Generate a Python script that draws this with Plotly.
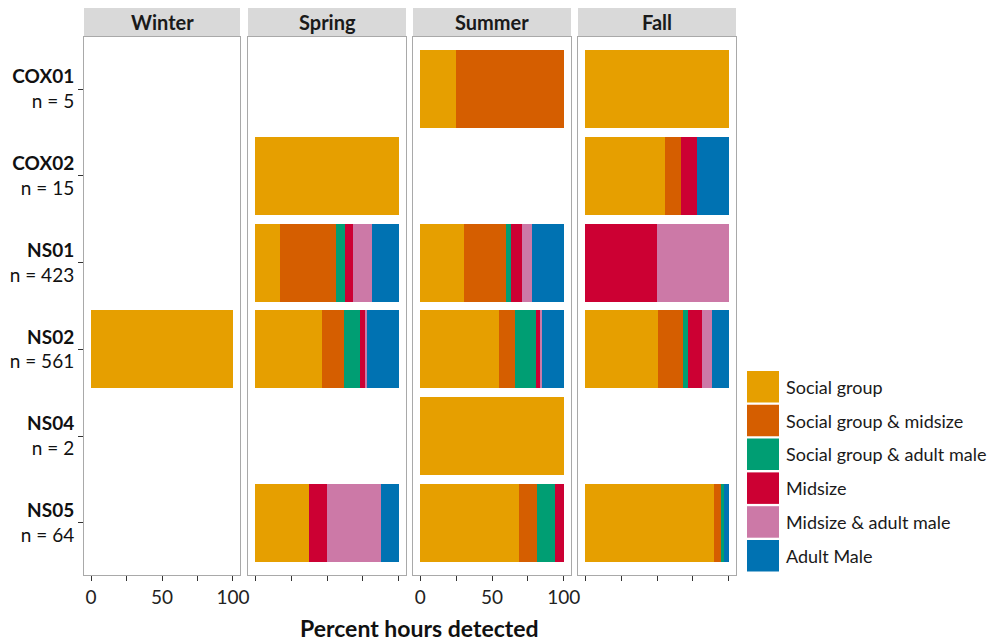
import plotly.graph_objects as go
from plotly.subplots import make_subplots

# Sites (top to bottom) and number of hours with detections
sites = ["COX01", "COX02", "NS01", "NS02", "NS04", "NS05"]
n_hours = [5, 15, 423, 561, 2, 64]

seasons = ["Winter", "Spring", "Summer", "Fall"]

groups = ["Social group", "Social group & midsize", "Social group & adult male",
          "Midsize", "Midsize & adult male", "Adult Male"]
group_colors = ["#E69F00", "#D55E00", "#009E73", "#CC0033", "#CC79A7", "#0072B2"]

# Percent of detected hours per group, one list per group in site order
# (None = no detections at that site in that season)
winter = {
    "Social group":              [None, None, None, 100.0, None, None],
    "Social group & midsize":    [None, None, None, 0.0, None, None],
    "Social group & adult male": [None, None, None, 0.0, None, None],
    "Midsize":                   [None, None, None, 0.0, None, None],
    "Midsize & adult male":      [None, None, None, 0.0, None, None],
    "Adult Male":                [None, None, None, 0.0, None, None],
}
spring = {
    "Social group":              [None, 100.0, 17.0, 46.2, None, 37.6],
    "Social group & midsize":    [None, 0.0, 39.4, 15.6, None, 0.0],
    "Social group & adult male": [None, 0.0, 6.3, 11.2, None, 0.0],
    "Midsize":                   [None, 0.0, 5.6, 4.0, None, 12.5],
    "Midsize & adult male":      [None, 0.0, 13.1, 1.1, None, 37.6],
    "Adult Male":                [None, 0.0, 18.6, 21.9, None, 12.3],
}
summer = {
    "Social group":              [25.0, None, 30.6, 55.2, 100.0, 68.7],
    "Social group & midsize":    [75.0, None, 28.8, 10.9, 0.0, 12.6],
    "Social group & adult male": [0.0, None, 4.1, 14.5, 0.0, 12.4],
    "Midsize":                   [0.0, None, 7.3, 3.1, 0.0, 6.3],
    "Midsize & adult male":      [0.0, None, 7.0, 0.8, 0.0, 0.0],
    "Adult Male":                [0.0, None, 22.2, 15.5, 0.0, 0.0],
}
fall = {
    "Social group":              [100.0, 55.7, 0.0, 50.6, None, 90.0],
    "Social group & midsize":    [0.0, 11.0, 0.0, 17.2, None, 4.7],
    "Social group & adult male": [0.0, 0.0, 0.0, 4.0, None, 1.6],
    "Midsize":                   [0.0, 11.0, 49.9, 9.3, None, 0.0],
    "Midsize & adult male":      [0.0, 0.0, 50.1, 7.0, None, 0.0],
    "Adult Male":                [0.0, 22.3, 0.0, 11.9, None, 3.7],
}
season_data = [winter, spring, summer, fall]

x_ticks = [0, 25, 50, 75, 100]
x_labels = ["0", "", "50", "", "100"]

FONT = "Lato"
W, H = 991, 642

# Panel geometry in pixels
panel_x = [(84, 240), (248, 406), (413, 571), (578, 736)]
panel_top, panel_bottom = 37, 575
strip_top = 8


def px_x(v):
    return v / W


def px_y(v):
    return 1 - v / H


fig = make_subplots(rows=1, cols=4, shared_yaxes=True, horizontal_spacing=0.01)

y_labels = [f"<b>{s}</b><br>n = {n}" for s, n in zip(sites, n_hours)]

for ci, data in enumerate(season_data):
    for g, col in zip(groups, group_colors):
        fig.add_trace(
            go.Bar(
                x=data[g], y=y_labels, orientation="h",
                marker=dict(color=col, line=dict(width=0)),
                name=g, showlegend=False, hoverinfo="x+y+name",
            ),
            row=1, col=ci + 1,
        )

fig.update_layout(barmode="stack", bargap=0.1)

shapes = []
annotations = []
for ci, season in enumerate(seasons):
    x0, x1 = panel_x[ci]
    xa = "xaxis" if ci == 0 else f"xaxis{ci + 1}"
    ya = "yaxis" if ci == 0 else f"yaxis{ci + 1}"
    show_lab = season in ("Winter", "Summer")
    fig.layout[xa].update(
        domain=[px_x(x0), px_x(x1)], range=[-5, 105],
        tickvals=x_ticks, ticktext=x_labels if show_lab else [""] * 5,
        ticks="outside", ticklen=5, tickcolor="#333333", tickwidth=1,
        tickfont=dict(family=FONT, size=19, color="#222222"),
        showgrid=False, zeroline=False, automargin=False,
        showline=True, mirror=True, linecolor="#a9a9a9", linewidth=1,
    )
    fig.layout[ya].update(
        domain=[px_y(panel_bottom), px_y(panel_top)],
        categoryorder="array", categoryarray=y_labels[::-1],
        range=[-0.6, 5.6], automargin=False,
        showgrid=False, zeroline=False,
        showline=True, mirror=True, linecolor="#a9a9a9", linewidth=1,
    )
    if ci == 0:
        fig.layout[ya].update(
            ticks="outside", ticklen=5, tickcolor="#333333", showticklabels=True,
            tickfont=dict(family=FONT, size=19, color="#111111"),
        )
    else:
        fig.layout[ya].update(ticks="", showticklabels=False)

    # facet strip
    shapes.append(dict(type="rect", xref="paper", yref="paper",
                       x0=px_x(x0), x1=px_x(x1), y0=px_y(panel_top - 1), y1=px_y(strip_top),
                       fillcolor="#d9d9d9", line=dict(width=0), layer="below"))
    annotations.append(dict(text=f"<b>{season}</b>", xref="paper", yref="paper",
                            x=px_x((x0 + x1) / 2), y=px_y((strip_top + panel_top) / 2),
                            xanchor="center", yanchor="middle", showarrow=False,
                            font=dict(family=FONT, size=20, color="#1a1a1a")))

# axis title
annotations.append(dict(text="<b>Percent hours detected</b>", xref="paper", yref="paper",
                        x=px_x(419), y=px_y(628), xanchor="center", yanchor="middle",
                        showarrow=False, font=dict(family=FONT, size=23, color="#111111")))

# legend keys
key_x0, key_x1 = 747, 779
key_top, key_step, key_h = 371, 33.8, 31.5
for i, (g, col) in enumerate(zip(groups, group_colors)):
    top = key_top + i * key_step
    shapes.append(dict(type="rect", xref="paper", yref="paper",
                       x0=px_x(key_x0), x1=px_x(key_x1), y0=px_y(top + key_h), y1=px_y(top),
                       fillcolor=col, line=dict(width=0)))
    annotations.append(dict(text=g, xref="paper", yref="paper",
                            x=px_x(784), y=px_y(top + key_h / 2), xanchor="left", yanchor="middle",
                            showarrow=False, font=dict(family=FONT, size=18, color="#1a1a1a")))

fig.update_layout(
    width=W, height=H, autosize=False, margin=dict(l=0, r=0, t=0, b=0, autoexpand=False),
    paper_bgcolor="white", plot_bgcolor="white",
    shapes=shapes, annotations=annotations, showlegend=False,
    font=dict(family=FONT),
)

fig.write_html("out.html")
